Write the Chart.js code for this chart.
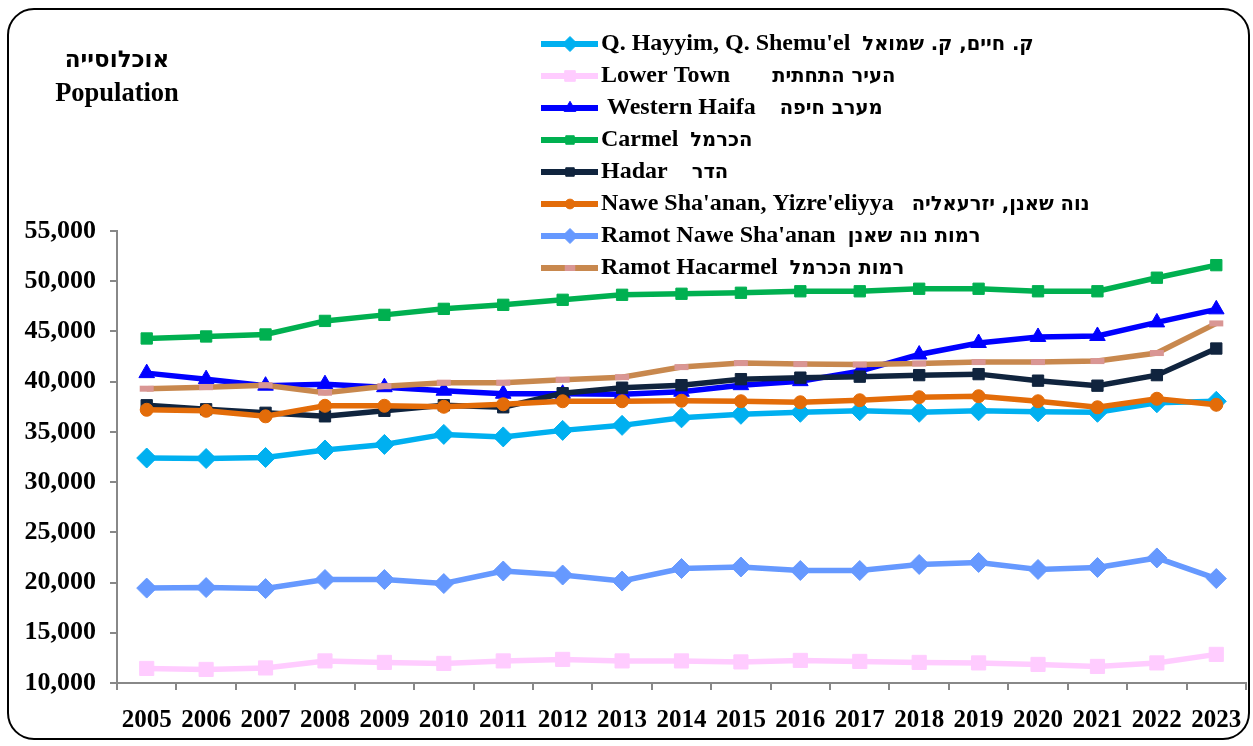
<!DOCTYPE html>
<html>
<head>
<meta charset="utf-8">
<script src="https://cdn.jsdelivr.net/npm/chart.js@4.4.1/dist/chart.umd.min.js"></script>
<style>
  html, body { margin: 0; padding: 0; background: #fff; overflow: hidden; }
  canvas { display: block; }
</style>
</head>
<body>
<canvas id="chart" width="1253" height="746"></canvas>
<script>
// Population by neighbourhood, Haifa

const years = ['2005', '2006', '2007', '2008', '2009', '2010', '2011', '2012', '2013', '2014',
  '2015', '2016', '2017', '2018', '2019', '2020', '2021', '2022', '2023'];

const qHayyim       = [32400, 32350, 32450, 33200, 33750, 34750, 34500, 35150, 35650, 36400, 36750, 36950, 37100, 36950, 37100, 37000, 36950, 37900, 38050];
const lowerTown     = [11450, 11350, 11500, 12200, 12050, 11950, 12200, 12350, 12200, 12200, 12100, 12250, 12150, 12050, 12000, 11850, 11650, 12000, 12850];
const westernHaifa  = [40850, 40250, 39600, 39750, 39450, 39100, 38800, 38800, 38750, 39000, 39650, 40050, 41050, 42700, 43850, 44450, 44550, 45900, 47200];
const carmel        = [44300, 44500, 44700, 46050, 46650, 47250, 47650, 48150, 48650, 48750, 48850, 49000, 49000, 49250, 49250, 49000, 49000, 50350, 51600];
const hadar         = [37650, 37250, 36900, 36550, 37100, 37650, 37450, 38850, 39400, 39650, 40250, 40400, 40500, 40650, 40750, 40100, 39600, 40650, 43300];
const naweShaanan   = [37200, 37100, 36550, 37600, 37600, 37500, 37750, 38050, 38050, 38100, 38050, 37950, 38150, 38450, 38550, 38050, 37450, 38300, 37700];
const ramotNawe     = [19450, 19500, 19400, 20300, 20300, 19900, 21150, 20750, 20150, 21400, 21550, 21200, 21200, 21800, 22000, 21300, 21500, 22450, 20400];
const ramotHacarmel = [39300, 39450, 39650, 38900, 39550, 39900, 39900, 40200, 40450, 41450, 41850, 41750, 41700, 41800, 41950, 41950, 42050, 42850, 45800];

const englishNames = [
  "Q. Hayyim, Q. Shemu'el  ",
  'Lower Town       ',
  ' Western Haifa    ',
  'Carmel  ',
  'Hadar    ',
  "Nawe Sha'anan, Yizre'eliyya   ",
  "Ramot Nawe Sha'anan  ",
  'Ramot Hacarmel  ',
];
const hebrewNames = [
  'ק. חיים, ק. שמואל',
  'העיר התחתית',
  'מערב חיפה',
  'הכרמל',
  'הדר',
  'נוה שאנן, יזרעאליה',
  'רמות נוה שאנן',
  'רמות הכרמל',
];
const axisTitle = ['אוכלוסייה', 'Population'];

const yTicks = [10000, 15000, 20000, 25000, 30000, 35000, 40000, 45000, 50000, 55000];

const serif = "'Liberation Serif', 'Times New Roman', serif";
const hebFont = "'DejaVu Sans', 'Liberation Sans', sans-serif";

Chart.defaults.font.family = serif;
Chart.defaults.color = '#000';

function series(data, color, style, radius, extra) {
  return Object.assign({
    data,
    borderColor: color,
    backgroundColor: color,
    pointBackgroundColor: color,
    pointBorderColor: color,
    pointBorderWidth: 1,
    borderWidth: 5.5,
    pointStyle: style,
    pointRadius: radius,
    tension: 0,
  }, extra || {});
}

const datasets = [
  series(qHayyim, '#00B0F0', 'rectRot', 10),
  series(lowerTown, '#FFCCFF', 'rect', 10),
  series(westernHaifa, '#0000FF', 'triangle', 9),
  series(carmel, '#00B050', 'rect', 8),
  series(hadar, '#10243E', 'rect', 8),
  series(naweShaanan, '#E36C09', 'circle', 6.5),
  series(ramotNawe, '#6699FF', 'rectRot', 10),
  series(ramotHacarmel, '#C8884E', 'line', 7, { pointBorderColor: '#D99694', pointBorderWidth: 6 }),
];
// later series sit on top, like the original
datasets.forEach((d, i) => { d.order = datasets.length - i; });

// frame, axis title and legend
const decor = {
  id: 'decor',
  beforeDraw(chart) {
    const ctx = chart.ctx;
    ctx.save();
    ctx.strokeStyle = '#000';
    ctx.lineWidth = 2;
    ctx.beginPath();
    ctx.roundRect(8, 9, 1241, 730, 26);
    ctx.stroke();
    ctx.restore();
  },
  afterDraw(chart) {
    const ctx = chart.ctx;
    ctx.save();
    ctx.fillStyle = '#000';
    ctx.textAlign = 'center';
    ctx.textBaseline = 'middle';
    ctx.font = 'bold 23px ' + hebFont;
    ctx.fillText(axisTitle[0], 117, 61);
    ctx.font = 'bold 26.5px ' + serif;
    ctx.fillText(axisTitle[1], 117, 94);

    ctx.textAlign = 'left';
    chart.data.datasets.forEach((ds, i) => {
      const y = 44 + i * 32;
      ctx.strokeStyle = ds.borderColor;
      ctx.lineWidth = 6;
      ctx.beginPath();
      ctx.moveTo(541, y);
      ctx.lineTo(598, y);
      ctx.stroke();

      ctx.fillStyle = ds.pointBackgroundColor;
      ctx.strokeStyle = ds.pointBorderColor;
      ctx.lineWidth = ds.pointBorderWidth;
      Chart.helpers.drawPoint(ctx, {
        pointStyle: ds.pointStyle,
        radius: ds.pointRadius * 0.75,
        rotation: 0,
        borderWidth: ds.pointBorderWidth,
      }, 570, y);

      ctx.fillStyle = '#000';
      ctx.font = 'bold 24px ' + serif;
      ctx.fillText(englishNames[i], 601, y);
      const w = ctx.measureText(englishNames[i]).width;
      ctx.font = 'bold 19.5px ' + hebFont;
      ctx.fillText(hebrewNames[i], 601 + w, y + 1);
    });
    ctx.restore();
  },
};

new Chart(document.getElementById('chart'), {
  type: 'line',
  data: { labels: years, datasets },
  plugins: [decor],
  options: {
    responsive: false,
    animation: false,
    layout: { autoPadding: false, padding: { left: 12, top: 231, right: 7, bottom: 0 } },
    plugins: {
      legend: { display: false },
      tooltip: { enabled: false },
    },
    scales: {
      x: {
        offset: true,
        grid: { offset: true, drawOnChartArea: false, tickLength: 7, color: '#888', lineWidth: 2 },
        border: { color: '#888', width: 2 },
        ticks: {
          font: { size: 25, weight: 'bold', lineHeight: 2.2 },
          padding: 3,
          maxRotation: 0,
          autoSkip: false,
        },
        afterFit: (s) => {
          s.height = 63;
          s.paddingLeft = 0;
          s.paddingRight = 0;
        },
      },
      y: {
        min: yTicks[0],
        max: yTicks[yTicks.length - 1],
        afterBuildTicks: (s) => { s.ticks = yTicks.map((v) => ({ value: v })); },
        grid: { drawOnChartArea: false, tickLength: 7, color: '#888', lineWidth: 2 },
        border: { color: '#888', width: 2 },
        ticks: {
          font: { size: 26, weight: 'bold' },
          padding: 14,
          callback: (v) => v.toLocaleString('en-US'),
        },
        afterFit: (s) => { s.width = 105; },
      },
    },
  },
});
</script>
</body>
</html>
